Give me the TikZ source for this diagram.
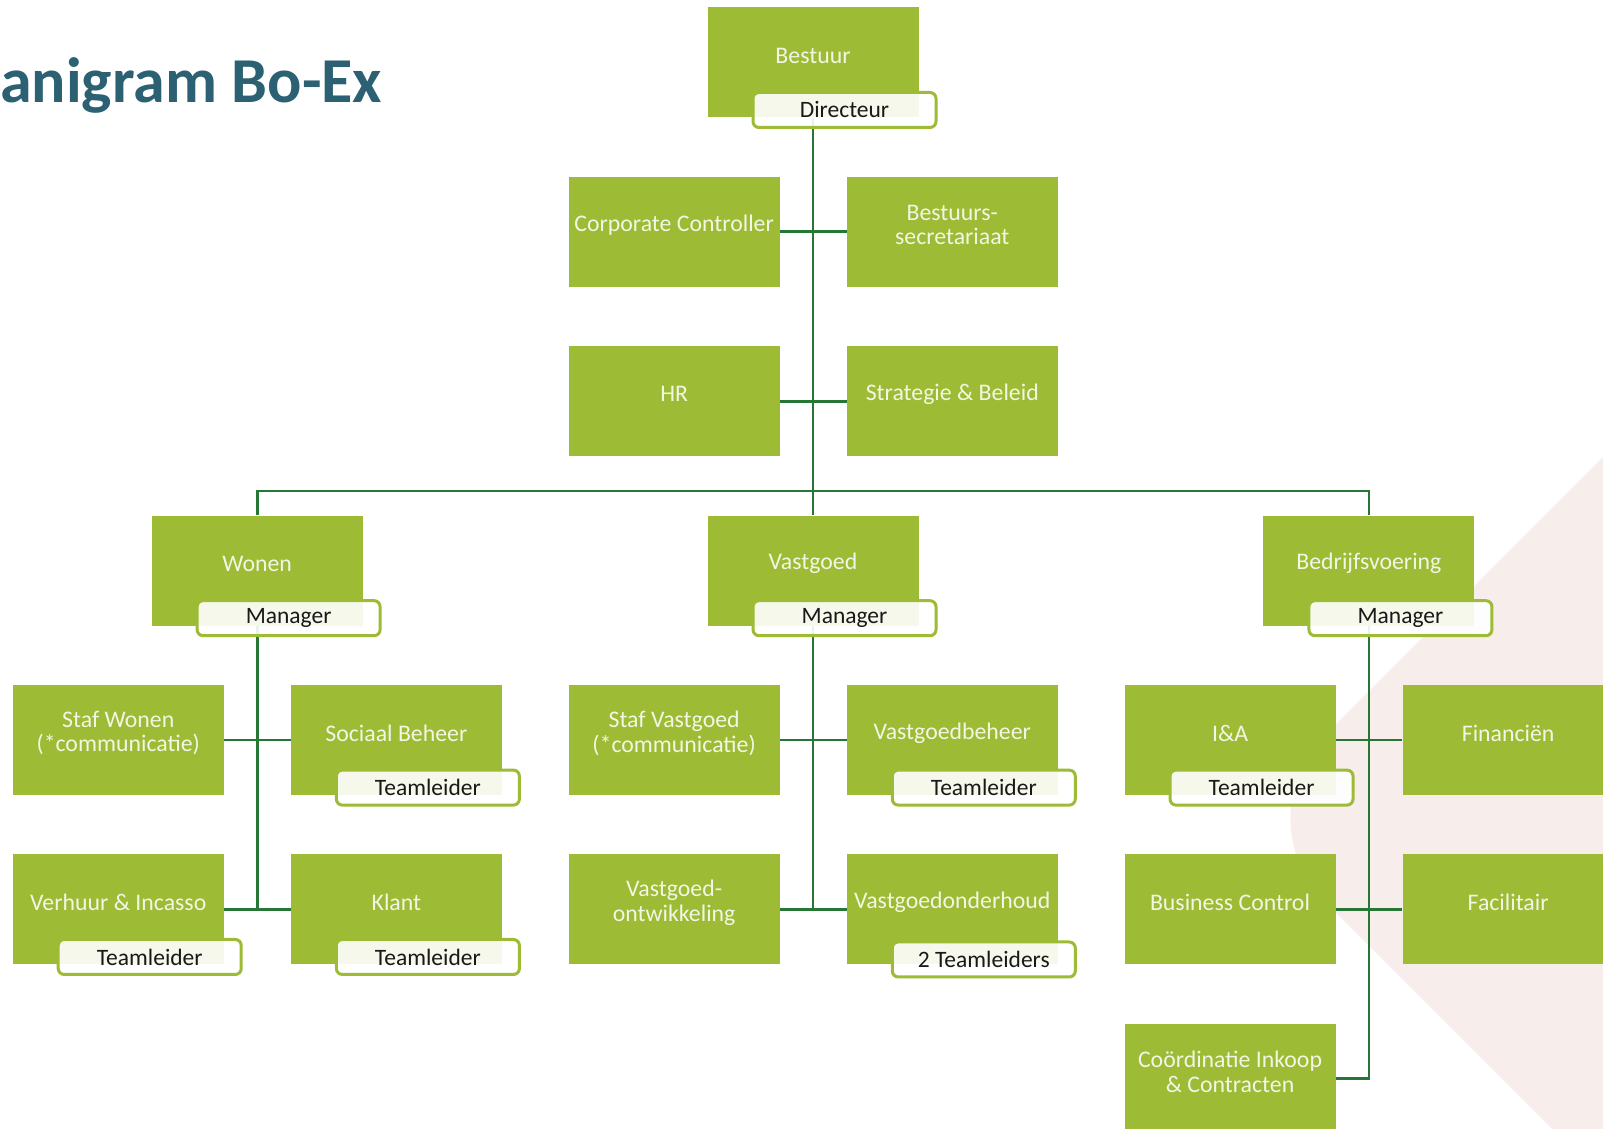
\documentclass[tikz,border=0pt]{standalone}
\usepackage{fontspec}
\setmainfont{Carlito}
\usetikzlibrary{positioning}

\definecolor{boxgreen}{RGB}{157,187,52}
\definecolor{linegreen}{RGB}{38,118,54}
\definecolor{boxtextcol}{RGB}{242,246,228}
\definecolor{titleblue}{RGB}{43,97,115}
\definecolor{bgpink}{RGB}{247,238,236}
\definecolor{roletext}{RGB}{25,25,25}

\begin{document}
\begin{tikzpicture}[x=1pt, y=1pt, node distance={59pt and 66.75pt},
	unittext/.style = {yshift=7pt, text=boxtextcol, align=center, font=\fontsize{23.8}{24.7}\selectfont},
	unit/.style = {fill=boxgreen, minimum width=211pt, minimum height=110pt, inner sep=0pt, label={[unittext]center:#1}},
	role/.style = {draw=boxgreen, line width=3pt, rounded corners=6pt, fill=white, fill opacity=0.9, text opacity=1, text=roletext, minimum width=183pt, minimum height=35pt, inner sep=0pt, font=\fontsize{23.5}{24}\selectfont},
	link/.style = {draw=linegreen, line width=2.8pt}]
	\useasboundingbox (0,0) rectangle (1603,1129);
	\clip (0,0) rectangle (1603,1129);

	%% Background
	\fill[bgpink, rounded corners=118pt] (1741.5,810.5) -- (1241.5,310.5) -- (1741.5,-189.5) -- cycle;
	\node[anchor=base west, inner sep=0pt, text=titleblue, font=\fontsize{64}{64}\selectfont\bfseries] (title) at (0,1026.3) {anigram Bo-Ex};

	%% Nodes
	\node[unit=Bestuur] (bestuur) at (813,1066.5) {};

	\node[unit=Corporate Controller][below=of bestuur, xshift=-138.875pt] (cc) {};
	\node[unit={Bestuurs-\\secretariaat}][right=of cc] (secr) {};

	\node[unit=HR][below=of cc] (hr) {};
	\node[unit=Strategie \& Beleid][right=of hr] (strat) {};

	\node[unit=Vastgoed][below=of hr, xshift=138.875pt] (vastgoed) {};
	\node[unit=Wonen][left=344.5pt of vastgoed] (wonen) {};
	\node[unit=Bedrijfsvoering][right=344.5pt of vastgoed] (bedrijf) {};

	\node[unit={Staf Wonen\\(*communicatie)}][below=of wonen, xshift=-138.875pt] (stafwonen) {};
	\node[unit=Sociaal Beheer][right=of stafwonen] (sociaal) {};
	\node[unit=Verhuur \& Incasso][below=of stafwonen] (verhuur) {};
	\node[unit=Klant][right=of verhuur] (klant) {};

	\node[unit={Staf Vastgoed\\(*communicatie)}][below=of vastgoed, xshift=-138.875pt] (stafvast) {};
	\node[unit=Vastgoedbeheer][right=of stafvast] (vgbeheer) {};
	\node[unit={Vastgoed-\\ontwikkeling}][below=of stafvast] (vgontw) {};
	\node[unit=Vastgoedonderhoud][right=of vgontw] (vgonderh) {};

	\node[unit=I\&A][below=of bedrijf, xshift=-138.875pt] (ia) {};
	\node[unit=Financiën][right=of ia] (fin) {};
	\node[unit=Business Control][below=of ia] (bc) {};
	\node[unit=Facilitair][right=of bc] (fac) {};
	\node[unit={Coördinatie Inkoop\\\& Contracten}][below=of bc] (coord) {};

	%% Edges
	\coordinate (bus) at (813,638);
	\coordinate (wonenend) at (wonen |- verhuur.east);
	\coordinate (vastend) at (vastgoed |- vgontw.east);
	\draw[link] (bestuur.south) -- (vastgoed.north);
	\draw[link] (cc.east) -- (secr.west);
	\draw[link] (hr.east) -- (strat.west);
	\draw[link] (wonen.north) |- (bus) -| (bedrijf.north);

	\draw[link] (wonen.south) -- (wonenend);
	\draw[link] (stafwonen.east) -- (sociaal.west);
	\draw[link] (verhuur.east) -- (klant.west);

	\draw[link] (vastgoed.south) -- (vastend);
	\draw[link] (stafvast.east) -- (vgbeheer.west);
	\draw[link] (vgontw.east) -- (vgonderh.west);

	\draw[link] (bedrijf.south) |- (coord.east);
	\draw[link] (ia.east) -- (fin.west);
	\draw[link] (bc.east) -- (fac.west);

	%% Roles
	\node[role] (r1) at ([xshift=31.5pt, yshift=-47.5pt]bestuur.center) {Directeur};
	\node[role] (r2) at ([xshift=31.5pt, yshift=-47.5pt]wonen.center) {Manager};
	\node[role] (r3) at ([xshift=31.5pt, yshift=-47.5pt]vastgoed.center) {Manager};
	\node[role] (r4) at ([xshift=31.5pt, yshift=-47.5pt]bedrijf.center) {Manager};
	\node[role] (r5) at ([xshift=31.5pt, yshift=-47.5pt]sociaal.center) {Teamleider};
	\node[role] (r6) at ([xshift=31.5pt, yshift=-47.5pt]verhuur.center) {Teamleider};
	\node[role] (r7) at ([xshift=31.5pt, yshift=-47.5pt]klant.center) {Teamleider};
	\node[role] (r8) at ([xshift=31.5pt, yshift=-47.5pt]vgbeheer.center) {Teamleider};
	\node[role] (r9) at ([xshift=31.5pt, yshift=-50pt]vgonderh.center) {2 Teamleiders};
	\node[role] (r10) at ([xshift=31.5pt, yshift=-47.5pt]ia.center) {Teamleider};

\end{tikzpicture}
\end{document}
